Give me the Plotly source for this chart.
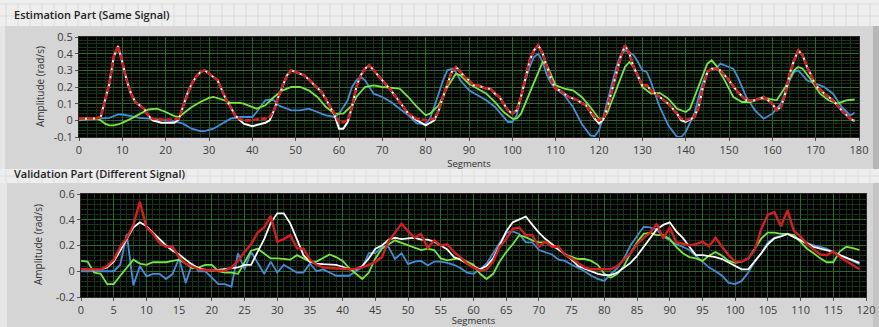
import plotly.graph_objects as go

# ---------------- Estimation part (top) ----------------
seg_top_rw = [0, 4, 5, 6, 7, 8, 9, 10, 11, 12, 13, 14, 15, 16, 17, 19, 22, 23, 24, 25, 26, 27, 28, 29, 30,
              31, 32, 33, 34, 35, 36, 37, 38, 40, 42, 43, 44, 45, 46, 47, 48, 49, 50, 52, 54, 56, 58, 59,
              60, 61, 62, 63, 64, 65, 66, 67, 68, 70, 72, 74, 76, 78, 80, 82, 83, 84, 85, 86, 87, 88, 89,
              90, 91, 92, 93, 94, 95, 96, 97, 98, 99, 100, 101, 102, 103, 104, 105, 106, 107, 108, 109,
              110, 111, 112, 113, 114, 115, 117, 119, 120, 121, 122, 123, 124, 125, 126, 127, 128, 129,
              130, 131, 132, 134, 136, 138, 139, 140, 142, 143, 144, 145, 146, 147, 148, 150, 152, 154,
              156, 158, 160, 161, 162, 163, 164, 165, 166, 167, 168, 169, 170, 172, 174, 176, 178, 179]
red_top = [0.01, 0.012, 0.02, 0.12, 0.22, 0.38, 0.446, 0.35, 0.24, 0.16, 0.11, 0.09, 0.07, 0.03, 0.01, 0.005,
           0.005, 0.01, 0.08, 0.16, 0.22, 0.26, 0.29, 0.30, 0.28, 0.26, 0.24, 0.18, 0.12, 0.08, 0.03, 0.01,
           0.0, 0.0, 0.01, 0.01, 0.02, 0.06, 0.14, 0.21, 0.27, 0.30, 0.29, 0.27, 0.22, 0.17, 0.08, 0.04,
           -0.01, -0.01, 0.0, 0.08, 0.20, 0.27, 0.31, 0.33, 0.30, 0.24, 0.18, 0.11, 0.04, 0.01, 0.0, 0.01,
           0.06, 0.14, 0.22, 0.29, 0.32, 0.29, 0.26, 0.24, 0.21, 0.21, 0.20, 0.19, 0.19, 0.16, 0.14, 0.10,
           0.06, 0.04, 0.06, 0.14, 0.26, 0.36, 0.42, 0.45, 0.40, 0.32, 0.24, 0.19, 0.18, 0.16, 0.14, 0.13,
           0.12, 0.09, 0.02, 0.0, 0.01, 0.08, 0.18, 0.28, 0.38, 0.45, 0.40, 0.32, 0.26, 0.21, 0.21, 0.18,
           0.14, 0.10, 0.04, 0.01, 0.0, 0.02, 0.08, 0.20, 0.29, 0.31, 0.31, 0.30, 0.24, 0.17, 0.12, 0.12,
           0.14, 0.10, 0.06, 0.08, 0.16, 0.28, 0.36, 0.42, 0.39, 0.32, 0.27, 0.21, 0.16, 0.12, 0.06, 0.01, 0.0]
white_top = [0.01, 0.012, 0.02, 0.12, 0.22, 0.38, 0.446, 0.35, 0.24, 0.16, 0.11, 0.09, 0.07, 0.03, 0.0, -0.015,
             -0.015, 0.005, 0.08, 0.16, 0.22, 0.26, 0.29, 0.30, 0.28, 0.26, 0.24, 0.18, 0.12, 0.08, 0.03, 0.005,
             -0.02, -0.035, -0.02, -0.015, 0.0, 0.06, 0.14, 0.21, 0.27, 0.30, 0.29, 0.27, 0.22, 0.17, 0.08, 0.03,
             -0.05, -0.05, -0.01, 0.08, 0.20, 0.27, 0.31, 0.33, 0.30, 0.24, 0.18, 0.11, 0.04, 0.0, -0.03, 0.0,
             0.06, 0.14, 0.22, 0.29, 0.32, 0.29, 0.26, 0.24, 0.21, 0.21, 0.20, 0.19, 0.19, 0.16, 0.14, 0.10,
             0.06, 0.04, 0.06, 0.14, 0.26, 0.36, 0.42, 0.45, 0.40, 0.32, 0.24, 0.19, 0.18, 0.16, 0.14, 0.13,
             0.12, 0.09, 0.01, -0.02, 0.005, 0.08, 0.18, 0.28, 0.38, 0.45, 0.40, 0.32, 0.26, 0.21, 0.21, 0.18,
             0.14, 0.10, 0.04, 0.0, -0.01, 0.02, 0.08, 0.20, 0.29, 0.31, 0.31, 0.30, 0.24, 0.17, 0.12, 0.12,
             0.14, 0.10, 0.06, 0.08, 0.16, 0.28, 0.36, 0.42, 0.39, 0.32, 0.27, 0.21, 0.16, 0.12, 0.06, 0.01, -0.005]

seg_top_g = [0, 3, 4, 5, 6, 7, 8, 9, 10, 12, 14, 16, 18, 20, 22, 23, 24, 26, 28, 30, 31, 33, 35, 37, 38, 40,
             41, 43, 45, 47, 49, 51, 53, 55, 57, 59, 61, 63, 64, 66, 68, 70, 72, 74, 76, 78, 80, 81, 83, 85,
             87, 88, 90, 92, 94, 96, 98, 100, 101, 102, 104, 106, 107, 108, 110, 112, 114, 116, 118, 120,
             121, 122, 124, 126, 127, 128, 130, 132, 134, 136, 138, 140, 141, 143, 145, 146, 147, 149, 151,
             153, 155, 157, 159, 161, 163, 165, 166, 167, 169, 171, 173, 175, 177, 179]
green_top = [0.005, 0.01, 0.01, 0.0, -0.02, -0.03, -0.03, -0.025, -0.015, 0.01, 0.04, 0.065, 0.07, 0.05, 0.025,
             0.02, 0.04, 0.08, 0.11, 0.135, 0.14, 0.125, 0.105, 0.105, 0.10, 0.08, 0.07, 0.09, 0.14, 0.18, 0.20,
             0.20, 0.18, 0.14, 0.08, 0.04, 0.04, 0.09, 0.14, 0.20, 0.21, 0.20, 0.195, 0.19, 0.14, 0.08, 0.03,
             0.04, 0.09, 0.20, 0.28, 0.27, 0.22, 0.19, 0.16, 0.11, 0.05, 0.01, 0.01, 0.04, 0.16, 0.29, 0.35,
             0.33, 0.21, 0.19, 0.18, 0.14, 0.08, 0.01, 0.01, 0.05, 0.19, 0.32, 0.35, 0.32, 0.20, 0.16, 0.165,
             0.13, 0.07, 0.05, 0.07, 0.20, 0.34, 0.36, 0.33, 0.24, 0.14, 0.11, 0.11, 0.13, 0.13, 0.12, 0.20,
             0.30, 0.32, 0.31, 0.24, 0.16, 0.12, 0.10, 0.12, 0.125]

seg_top_b = [0, 4, 7, 8, 9, 10, 12, 14, 16, 18, 20, 22, 24, 26, 28, 29, 31, 33, 35, 37, 40, 41, 43, 44, 45,
             46, 47, 49, 51, 53, 55, 57, 59, 60, 62, 63, 64, 65, 66, 67, 68, 70, 72, 74, 76, 78, 80, 81, 82,
             83, 84, 85, 86, 87, 88, 90, 92, 94, 96, 98, 99, 100, 101, 102, 103, 104, 105, 106, 107, 108,
             109, 110, 112, 114, 116, 118, 119, 120, 121, 122, 123, 124, 125, 126, 127, 128, 129, 130, 131,
             132, 134, 136, 138, 139, 140, 142, 143, 144, 145, 146, 147, 148, 150, 151, 152, 154, 156, 158,
             160, 162, 164, 165, 166, 167, 168, 170, 171, 172, 174, 176, 178, 179]
blue_top = [0.0, 0.01, 0.015, 0.025, 0.035, 0.035, 0.025, 0.015, 0.01, 0.005, 0.0, -0.005, -0.02, -0.05, -0.065,
            -0.065, -0.05, -0.02, 0.01, 0.02, 0.02, 0.05, 0.12, 0.125, 0.12, 0.09, 0.08, 0.06, 0.06, 0.07, 0.05,
            0.03, 0.02, 0.04, 0.12, 0.20, 0.24, 0.26, 0.24, 0.20, 0.16, 0.14, 0.11, 0.07, 0.03, -0.02, -0.02,
            0.01, 0.08, 0.16, 0.24, 0.30, 0.31, 0.29, 0.24, 0.18, 0.15, 0.12, 0.08, 0.02, -0.01, -0.01, 0.03,
            0.14, 0.24, 0.32, 0.38, 0.40, 0.35, 0.27, 0.22, 0.19, 0.15, 0.08, -0.02, -0.09, -0.095, -0.06, 0.02,
            0.12, 0.22, 0.32, 0.39, 0.42, 0.41, 0.39, 0.35, 0.30, 0.29, 0.23, 0.08, -0.03, -0.10, -0.10, -0.07,
            0.04, 0.14, 0.23, 0.29, 0.31, 0.31, 0.34, 0.32, 0.31, 0.26, 0.14, 0.06, 0.01, 0.04, 0.10, 0.24,
            0.29, 0.30, 0.27, 0.24, 0.22, 0.21, 0.20, 0.16, 0.08, 0.03, 0.045]

# ---------------- Validation part (bottom) ----------------
seg_bot = list(range(120))
red_bot = [0.015, 0.015, 0.015, 0.015, 0.04, 0.09, 0.19, 0.26, 0.36, 0.54, 0.34, 0.29, 0.22, 0.19, 0.19, 0.11,
           0.06, 0.04, 0.015, 0.01, 0.005, 0.005, 0.005, 0.03, 0.08, 0.15, 0.21, 0.30, 0.34, 0.43, 0.23, 0.25,
           0.28, 0.18, 0.175, 0.09, 0.05, 0.03, 0.025, 0.02, 0.018, 0.015, 0.02, 0.03, 0.05, 0.075, 0.11, 0.23,
           0.30, 0.37, 0.31, 0.26, 0.29, 0.18, 0.24, 0.20, 0.21, 0.15, 0.11, 0.06, 0.03, 0.005, 0.015, 0.075,
           0.19, 0.25, 0.33, 0.34, 0.28, 0.28, 0.19, 0.23, 0.19, 0.19, 0.125, 0.10, 0.065, 0.03, 0.015, 0.015,
           0.015, 0.015, 0.04, 0.09, 0.14, 0.21, 0.26, 0.30, 0.37, 0.255, 0.34, 0.225, 0.21, 0.20, 0.21, 0.23,
           0.195, 0.26, 0.19, 0.125, 0.075, 0.075, 0.10, 0.165, 0.33, 0.44, 0.46, 0.35, 0.475, 0.31, 0.27,
           0.21, 0.17, 0.13, 0.125, 0.155, 0.11, 0.08, 0.045, 0.015]
white_bot = [0.015, 0.015, 0.015, 0.015, 0.03, 0.075, 0.16, 0.25, 0.34, 0.38, 0.35, 0.30, 0.25, 0.20, 0.16, 0.13,
             0.09, 0.05, 0.025, 0.01, 0.005, 0.01, 0.015, 0.02, 0.03, 0.05, 0.05, 0.15, 0.25, 0.375, 0.45, 0.45,
             0.37, 0.25, 0.125, 0.075, 0.06, 0.055, 0.055, 0.05, 0.035, 0.015, 0.015, 0.04, 0.10, 0.175, 0.20,
             0.245, 0.26, 0.25, 0.255, 0.26, 0.245, 0.245, 0.23, 0.20, 0.17, 0.11, 0.09, 0.06, 0.04, 0.015, 0.04,
             0.10, 0.20, 0.31, 0.38, 0.40, 0.425, 0.36, 0.30, 0.25, 0.21, 0.17, 0.125, 0.09, 0.04, 0.02, 0.0,
             -0.02, -0.03, -0.03, -0.01, 0.025, 0.065, 0.12, 0.19, 0.26, 0.325, 0.36, 0.38, 0.31, 0.26, 0.19,
             0.125, 0.125, 0.12, 0.11, 0.095, 0.07, 0.04, 0.015, 0.015, 0.075, 0.14, 0.21, 0.255, 0.27, 0.29,
             0.265, 0.24, 0.215, 0.19, 0.175, 0.165, 0.15, 0.125, 0.105, 0.08, 0.065]
blue_bot = [0.0, 0.0, 0.0, 0.0, 0.0, 0.0, 0.05, 0.29, -0.11, 0.04, -0.04, -0.02, -0.02, -0.06, -0.02, 0.10, -0.09,
            0.06, 0.0, 0.0, -0.05, -0.10, -0.10, -0.12, 0.14, 0.015, 0.15, 0.06, -0.02, 0.075, -0.01, 0.05, 0.02,
            -0.01, -0.01, 0.06, 0.0, 0.015, -0.01, -0.035, -0.035, -0.035, 0.0, 0.03, 0.14, 0.14, 0.19, 0.19,
            0.095, 0.14, 0.055, 0.075, 0.08, 0.045, 0.075, 0.075, 0.065, 0.05, 0.025, -0.01, -0.02, 0.015, 0.06,
            0.14, 0.225, 0.30, 0.31, 0.29, 0.225, 0.225, 0.165, 0.15, 0.13, 0.09, 0.08, 0.05, 0.025, 0.0, -0.035,
            -0.06, -0.075, -0.02, 0.025, 0.10, 0.20, 0.275, 0.345, 0.34, 0.325, 0.27, 0.24, 0.21, 0.19, 0.165,
            0.12, 0.075, 0.03, 0.0, -0.035, -0.09, -0.10, -0.075, -0.01, 0.075, 0.14, 0.225, 0.26, 0.275, 0.29,
            0.265, 0.245, 0.225, 0.20, 0.19, 0.175, 0.15, 0.125, 0.10, 0.075, 0.055]
green_bot = [0.08, 0.075, -0.01, -0.02, -0.10, -0.10, -0.035, 0.025, 0.09, 0.06, 0.05, 0.07, 0.07, 0.07, 0.08, 0.09,
             0.06, 0.025, 0.03, 0.05, 0.05, 0.0, -0.01, -0.01, -0.02, 0.075, 0.16, 0.175, 0.14, 0.10, 0.10, 0.095,
             0.09, 0.125, 0.10, 0.075, 0.075, 0.105, 0.13, 0.11, 0.08, 0.025, -0.02, -0.06, -0.01, 0.10, 0.175,
             0.21, 0.24, 0.22, 0.20, 0.18, 0.165, 0.175, 0.165, 0.10, 0.085, 0.095, 0.10, 0.075, 0.05, -0.02,
             -0.06, -0.02, 0.075, 0.15, 0.21, 0.28, 0.265, 0.24, 0.225, 0.225, 0.20, 0.17, 0.13, 0.11, 0.095,
             0.095, 0.08, 0.05, -0.02, -0.05, -0.02, 0.04, 0.14, 0.225, 0.29, 0.30, 0.28, 0.28, 0.25, 0.19, 0.14,
             0.11, 0.10, 0.08, 0.12, 0.15, 0.12, 0.08, 0.065, 0.075, 0.10, 0.175, 0.255, 0.30, 0.30, 0.29, 0.29,
             0.28, 0.225, 0.175, 0.14, 0.10, 0.07, 0.07, 0.155, 0.19, 0.18, 0.165]

top_title = "Estimation Part (Same Signal)"
bot_title = "Validation Part (Different Signal)"
y_title = "Amplitude (rad/s)"
x_title = "Segments"

W, H = 879, 327
def px(x): return x / W
def py(y): return 1 - y / H

RED, WHITE, BLUE, GREEN = "#d81e1a", "#ffffff", "#3f8fde", "#74ea38"

fig = go.Figure()
def add(x, y, color, width, xa, ya, dash=None):
    fig.add_trace(go.Scatter(x=x, y=y, mode="lines", xaxis=xa, yaxis=ya, showlegend=False,
                             line=dict(color=color, width=width, dash=dash), hoverinfo="skip"))

add(seg_top_b, blue_top, BLUE, 1.8, "x", "y")
add(seg_top_g, green_top, GREEN, 1.8, "x", "y")
add(seg_top_rw, white_top, WHITE, 2, "x", "y")
add(seg_top_rw, red_top, RED, 2.6, "x", "y", dash="6px,2px")

add(seg_bot, blue_bot, BLUE, 1.8, "x2", "y2")
add(seg_bot, green_bot, GREEN, 1.8, "x2", "y2")
add(seg_bot, white_bot, WHITE, 1.8, "x2", "y2")
add(seg_bot, red_bot, RED, 2.4, "x2", "y2")

TICKFONT = dict(family="Open Sans, Noto Sans, sans-serif", size=11, color="#3c3c3c")
XT_FONT = dict(family="Open Sans, Noto Sans, sans-serif", size=9.5, color="#333333")
MAJ = "#2c6a2c"
MIN = "#153515"
common = dict(showline=True, linecolor="#2a2a2a", mirror=True, ticks="outside", ticklen=3,
              tickcolor="#555555", tickfont=TICKFONT, showgrid=True, gridcolor=MAJ, gridwidth=1,
              zeroline=False, automargin=False)

fig.update_layout(
    width=W, height=H, margin=dict(l=0, r=0, t=0, b=0),
    paper_bgcolor="#d5d5d5", plot_bgcolor="#000000",
    xaxis=dict(domain=[px(79), px(859)], range=[0, 180], dtick=10, anchor="y",
               title=dict(text=x_title, font=XT_FONT, standoff=1),
               minor=dict(dtick=2, showgrid=True, gridcolor=MIN, gridwidth=1), **common),
    yaxis=dict(domain=[py(137), py(37)], range=[-0.1, 0.5], dtick=0.1, anchor="x",
               tickvals=[-0.1, 0, 0.1, 0.2, 0.3, 0.4, 0.5],
               ticktext=["-0.1", "0", "0.1", "0.2", "0.3", "0.4", "0.5"],
               minor=dict(dtick=0.02, showgrid=True, gridcolor=MIN, gridwidth=1), **common),
    xaxis2=dict(domain=[px(81), px(866)], range=[0, 120], dtick=5, anchor="y2",
                title=dict(text=x_title, font=XT_FONT, standoff=1),
                minor=dict(dtick=1, showgrid=True, gridcolor=MIN, gridwidth=1), **common),
    yaxis2=dict(domain=[py(297), py(194)], range=[-0.2, 0.6], anchor="x2",
                tickvals=[-0.2, 0, 0.2, 0.4, 0.6], ticktext=["-0.2", "0", "0.2", "0.4", "0.6"],
                minor=dict(dtick=0.04, showgrid=True, gridcolor=MIN, gridwidth=1), **common),
)

shapes = []
LIGHT = "#eeeeee"
shapes.append(dict(type="rect", xref="paper", yref="paper", x0=0, x1=1, y0=py(26), y1=1,
                   fillcolor=LIGHT, line=dict(width=0), layer="below"))
shapes.append(dict(type="rect", xref="paper", yref="paper", x0=0, x1=1, y0=py(183), y1=py(169),
                   fillcolor=LIGHT, line=dict(width=0), layer="below"))
shapes.append(dict(type="rect", xref="paper", yref="paper", x0=0, x1=px(5), y0=py(169), y1=py(26),
                   fillcolor="#e6e6e6", line=dict(width=0), layer="below"))
shapes.append(dict(type="rect", xref="paper", yref="paper", x0=0, x1=px(7), y0=0, y1=py(183),
                   fillcolor="#e6e6e6", line=dict(width=0), layer="below"))
shapes.append(dict(type="rect", xref="paper", yref="paper", x0=px(873), x1=1, y0=py(169), y1=py(26),
                   fillcolor="#b8b8b8", line=dict(width=0), layer="below"))
shapes.append(dict(type="rect", xref="paper", yref="paper", x0=px(873), x1=1, y0=0, y1=py(183),
                   fillcolor="#c4c4c4", line=dict(width=0), layer="below"))
for gx in range(6, W, 12):
    shapes.append(dict(type="line", xref="paper", yref="paper", x0=px(gx), x1=px(gx), y0=py(26), y1=py(4),
                       line=dict(color="#dcdcdc", width=1), layer="below"))
    shapes.append(dict(type="line", xref="paper", yref="paper", x0=px(gx), x1=px(gx), y0=py(183), y1=py(170),
                       line=dict(color="#dcdcdc", width=1), layer="below"))
for gy in (4, 16, 176):
    shapes.append(dict(type="line", xref="paper", yref="paper", x0=0, x1=1, y0=py(gy), y1=py(gy),
                       line=dict(color="#dcdcdc", width=1), layer="below"))
fig.update_layout(shapes=shapes)

TF = dict(family="Open Sans, Noto Sans, sans-serif", size=11, color="#222222", weight=600)
LF = dict(family="Open Sans, Noto Sans, sans-serif", size=10, color="#333333")
ann = [
    dict(text=top_title, x=px(12), y=py(15), xanchor="left", yanchor="middle", font=TF),
    dict(text=bot_title, x=px(12), y=py(173), xanchor="left", yanchor="middle", font=TF),
    dict(text=y_title, x=px(40), y=py(87), textangle=-90, xanchor="center", yanchor="middle", font=LF),
    dict(text=y_title, x=px(38), y=py(245), textangle=-90, xanchor="center", yanchor="middle", font=LF),
]
for a in ann:
    a.update(xref="paper", yref="paper", showarrow=False)
fig.update_layout(annotations=ann)

fig.write_html("out.html")
